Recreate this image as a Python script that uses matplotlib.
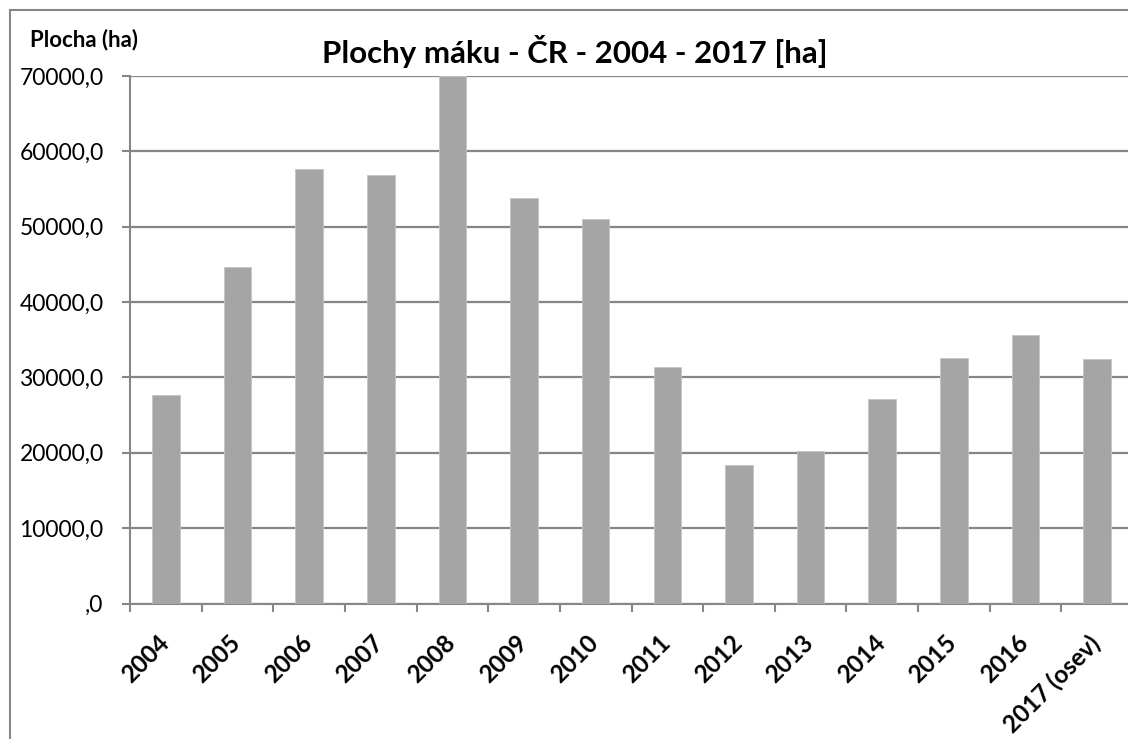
"""
plot.py

Plochy maku - CR - 2004 - 2017
"""

import numpy as np
import matplotlib
matplotlib.use("Agg")
import matplotlib.pyplot as plt
import matplotlib.transforms as mtransforms
from matplotlib.patches import Rectangle
from matplotlib.ticker import FuncFormatter

plt.rcParams["font.family"] = ["Lato", "DejaVu Sans"]

# ----------------------------------------------------
# Data
# ----------------------------------------------------

years = [
    "2004", "2005", "2006", "2007", "2008", "2009", "2010",
    "2011", "2012", "2013", "2014", "2015", "2016", "2017 (osev)"
]

area_ha = [
    27650, 44630, 57720, 56830, 70000, 53780, 51000,
    31400, 18330, 20220, 27080, 32600, 35570, 32470
]

y_ticks = [0, 10000, 20000, 30000, 40000, 50000, 60000, 70000]

# ----------------------------------------------------
# Figure
# ----------------------------------------------------

W, H = 1128, 739
fig = plt.figure(figsize=(W / 100, H / 100), dpi=100)

# chart frame (cropped on the right/bottom)
fig.patches.append(Rectangle(
    (10 / W, -0.1), 1.2, 1 - 10 / H + 0.1,
    transform=fig.transFigure, fill=False,
    edgecolor="#868686", linewidth=1.5
))

ax = fig.add_axes([130 / W, 135.5 / H, 1003 / W, 527.5 / H])

x = np.arange(len(years))

ax.bar(
    x, area_ha, width=0.385,
    color="#a5a5a5", edgecolor="#c4c4c4", linewidth=0.6,
    zorder=3
)

ax.set_xlim(-0.5, len(years) - 0.5)
ax.set_ylim(0, 70000)
ax.set_yticks(y_ticks)


def fmt(v, pos):
    s = f"{v:.1f}".replace(".", ",")
    return ",0" if v == 0 else s


ax.yaxis.set_major_formatter(FuncFormatter(fmt))
ax.grid(axis="y", color="#868686", linewidth=1.6, zorder=0)

# category boundary ticks on x, labels on category centres
ax.set_xticks(np.arange(len(years) + 1) - 0.5)
ax.set_xticklabels([])
ax.set_xticks(x, minor=True)
ax.set_xticklabels(years, minor=True, rotation=45, ha="right",
                   rotation_mode="anchor", fontsize=17.5, fontweight="bold")
ax.tick_params(axis="x", which="minor", length=0, pad=20)
ax.tick_params(axis="x", which="major", length=6, width=1.5,
               color="#868686")
ax.tick_params(axis="y", length=6, width=1.5, color="#868686",
               labelsize=16.5, pad=13)

# nudge rotated labels left
shift = mtransforms.ScaledTranslation(-0.09, 0.0, fig.dpi_scale_trans)
for lab in ax.get_xticklabels(minor=True):
    lab.set_transform(lab.get_transform() + shift)

for side in ["top", "right"]:
    ax.spines[side].set_visible(False)
for side in ["left", "bottom"]:
    ax.spines[side].set_color("#868686")
    ax.spines[side].set_linewidth(1.5)

# ----------------------------------------------------
# Titles
# ----------------------------------------------------

fig.text(575 / W, 1 - 52 / H, "Plochy máku - ČR - 2004 - 2017 [ha]",
         ha="center", va="center", fontsize=22.5, fontweight="bold")

fig.text(30 / W, 1 - 40 / H, "Plocha (ha)",
         ha="left", va="center", fontsize=16, fontweight="bold")

fig.savefig("out.png", dpi=100)
